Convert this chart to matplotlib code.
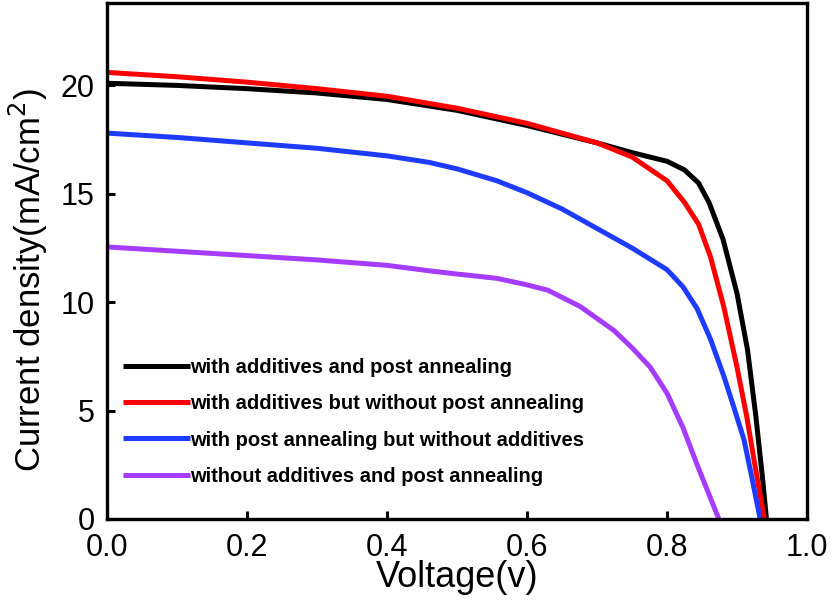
import matplotlib.pyplot as plt

plt.rcParams['font.family'] = ['Liberation Sans', 'DejaVu Sans']

# J-V curves
v_black = [0, 0.1, 0.2, 0.3, 0.4, 0.5, 0.6, 0.7, 0.75, 0.8, 0.825, 0.845, 0.86, 0.88, 0.9, 0.915, 0.927, 0.937, 0.942]
j_black = [20.1, 20.0, 19.85, 19.65, 19.35, 18.85, 18.15, 17.35, 16.9, 16.5, 16.1, 15.5, 14.6, 12.9, 10.4, 7.8, 4.7, 1.7, 0]

v_red = [0, 0.1, 0.2, 0.3, 0.4, 0.5, 0.6, 0.7, 0.75, 0.8, 0.825, 0.845, 0.862, 0.881, 0.9, 0.914, 0.926, 0.939]
j_red = [20.6, 20.4, 20.15, 19.85, 19.5, 18.95, 18.25, 17.35, 16.7, 15.6, 14.6, 13.6, 12.1, 9.8, 7.0, 4.7, 2.4, 0]

v_blue = [0, 0.1, 0.2, 0.3, 0.4, 0.46, 0.5, 0.557, 0.6, 0.65, 0.7, 0.75, 0.8, 0.823, 0.843, 0.862, 0.881, 0.895, 0.91, 0.92, 0.933]
j_blue = [17.8, 17.6, 17.35, 17.1, 16.75, 16.45, 16.15, 15.6, 15.05, 14.3, 13.4, 12.5, 11.5, 10.7, 9.7, 8.3, 6.6, 5.2, 3.65, 2.1, 0]

v_purple = [0, 0.1, 0.2, 0.3, 0.4, 0.46, 0.5, 0.557, 0.6, 0.63, 0.676, 0.724, 0.75, 0.776, 0.8, 0.823, 0.843, 0.874]
j_purple = [12.55, 12.35, 12.15, 11.95, 11.7, 11.45, 11.3, 11.1, 10.8, 10.55, 9.8, 8.7, 7.9, 7.0, 5.8, 4.2, 2.5, 0]

labels = ["with additives and post annealing",
          "with additives but without post annealing",
          "with post annealing but without additives",
          "without additives and post annealing"]
colors = ["black", "#ff0000", "#1e3cff", "#a63cff"]

fig = plt.figure(figsize=(8.32, 6.07), dpi=100)
ax = fig.add_axes([0.1286, 0.145, 0.8414, 0.850])

for v, j, c, lab in zip([v_black, v_red, v_blue, v_purple],
                        [j_black, j_red, j_blue, j_purple], colors, labels):
    ax.plot(v, j, color=c, lw=3.6, label=lab, solid_capstyle='butt')

ax.set_xlim(0, 1.0)
ax.set_ylim(0, 23.8)
ax.set_xticks([0.0, 0.2, 0.4, 0.6, 0.8, 1.0])
ax.set_xticklabels(["0.0", "0.2", "0.4", "0.6", "0.8", "1.0"])
ax.set_yticks([0, 5, 10, 15, 20])
ax.tick_params(direction='in', length=6, width=2.2, labelsize=22)
ax.tick_params(axis='x', pad=10)
ax.tick_params(axis='y', pad=9)
for s in ax.spines.values():
    s.set_linewidth(2.4)

ax.set_xlabel("Voltage(v)", fontsize=26, labelpad=-2)
ax.set_ylabel("Current density(mA/cm$^2$)", fontsize=25)
ax.yaxis.set_label_coords(-0.082, 0.463)

leg = ax.legend(loc='center left', bbox_to_anchor=(0.023, 0.188), frameon=False,
                handlelength=3.33, handletextpad=0.0, borderpad=0, borderaxespad=0,
                labelspacing=0.85, prop={'weight': 'bold', 'size': 14.5})

fig.savefig("out.png", dpi=100)
